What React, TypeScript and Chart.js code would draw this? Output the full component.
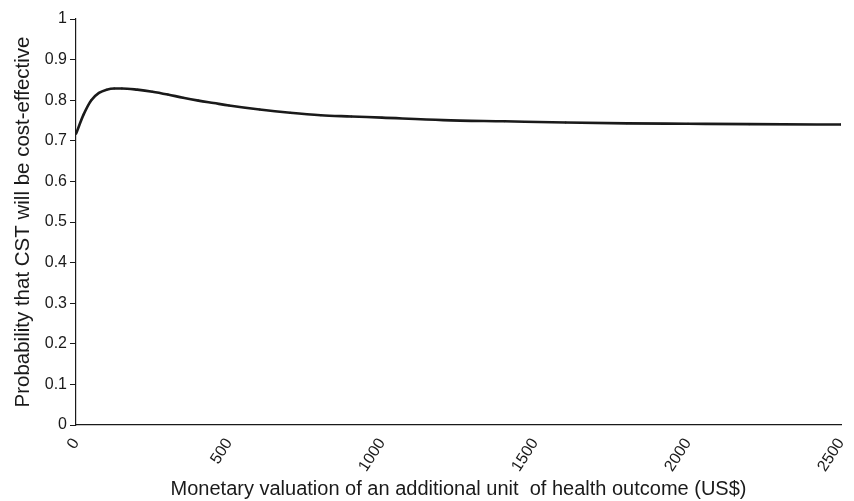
import React, { useEffect, useRef } from "react";
import { Chart, registerables } from "chart.js";

Chart.register(...registerables);

const wtpValues = [0, 25, 50, 75, 100, 125, 150, 200, 250, 300, 350, 400, 450, 500, 600, 700, 800, 900, 1000, 1200, 1400, 1600, 1800, 2000, 2200, 2500];
const probCST = [0.717, 0.765, 0.8, 0.818, 0.826, 0.829, 0.829, 0.826, 0.821, 0.814, 0.806, 0.799, 0.793, 0.787, 0.777, 0.769, 0.763, 0.76, 0.757, 0.751, 0.748, 0.745, 0.743, 0.742, 0.741, 0.74];

const xTitle = "Monetary valuation of an additional unit  of health outcome (US$)";
const yTitle = "Probability that CST will be cost-effective";

export default function App() {
  const ref = useRef<HTMLCanvasElement>(null);
  useEffect(() => {
    if (!ref.current) return;
    const ink = "#1a1a1a";
    const font = "'Liberation Sans', Arial, Helvetica, sans-serif";
    const chart = new Chart(ref.current, {
      type: "line",
      data: {
        datasets: [
          {
            data: wtpValues.map((x, i) => ({ x, y: probCST[i] })),
            borderColor: ink,
            backgroundColor: ink,
            borderWidth: 2.6,
            pointRadius: 1,
            pointBorderWidth: 0,
            cubicInterpolationMode: "monotone",
            fill: false,
          },
        ],
      },
      options: {
        responsive: false,
        animation: false,
        events: [],
        layout: { padding: { top: 19, right: 13, left: 0, bottom: 0 } },
        plugins: { legend: { display: false }, tooltip: { enabled: false } },
        scales: {
          x: {
            type: "linear",
            min: 0,
            max: 2500,
            afterFit: (s: any) => { s.height = 76; s.paddingRight = 0; },
            grid: { display: false },
            border: { display: true, color: ink, width: 1.2 },
            ticks: {
              stepSize: 500,
              minRotation: 57,
              maxRotation: 57,
              color: ink,
              padding: 2,
              font: { family: font, size: 16 },
              callback: (v: any) => String(v),
            },
            title: {
              display: true,
              text: xTitle,
              color: ink,
              font: { family: font, size: 20 },
              padding: { top: 0, bottom: 0 },
            },
          },
          y: {
            min: 0,
            max: 1,
            afterFit: (s: any) => { s.width = 76; },
            grid: { drawOnChartArea: false, drawTicks: true, tickLength: 6, color: ink },
            border: { display: true, color: ink, width: 1.2 },
            ticks: {
              stepSize: 0.1,
              color: ink,
              padding: 3,
              font: { family: font, size: 16 },
              callback: (v: any) => String(Math.round(Number(v) * 10) / 10),
            },
            title: {
              display: true,
              text: yTitle,
              color: ink,
              font: { family: font, size: 20.5 },
              padding: { top: 11, bottom: 0 },
            },
          },
        },
      },
    });
    return () => chart.destroy();
  }, []);
  return (
    <div style={{ position: "fixed", left: 0, top: 0, width: 854, height: 501, background: "#fff" }}>
      <canvas ref={ref} width={854} height={501} style={{ display: "block" }} />
    </div>
  );
}
